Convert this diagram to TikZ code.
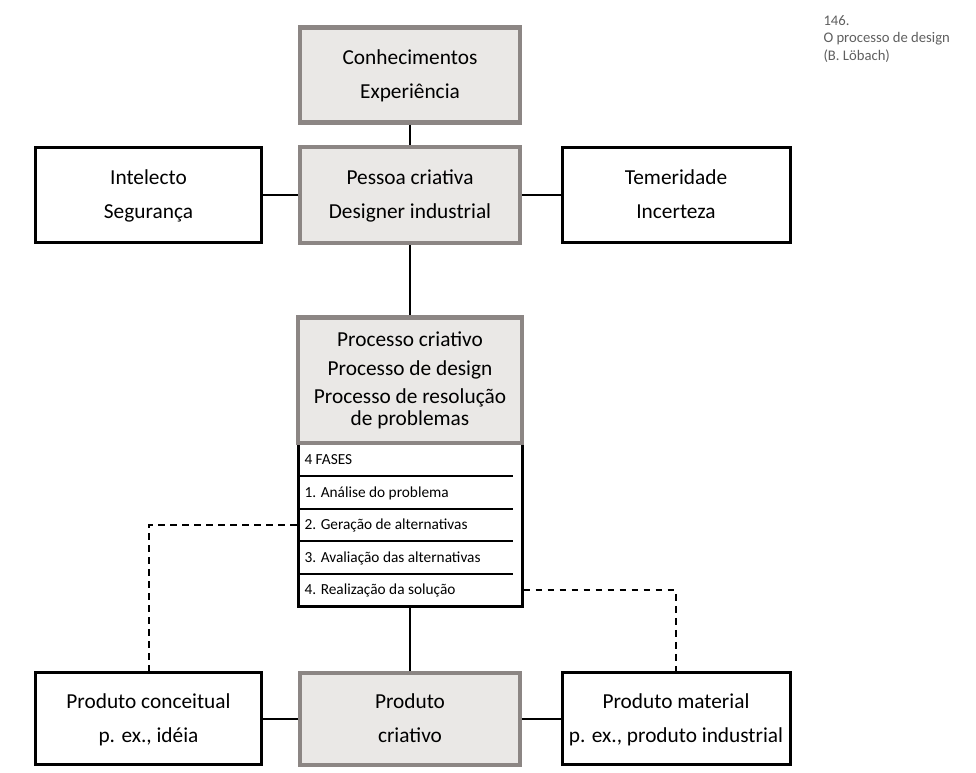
\documentclass[tikz,border=0pt]{standalone}
\usepackage{fontspec}
\setmainfont{Carlito}
\definecolor{boxgray}{RGB}{234,232,230}
\definecolor{rimgray}{RGB}{140,134,132}
\definecolor{capgray}{RGB}{95,95,95}
\tikzset{every picture/.style={line width=0.75pt}}
\tikzset{
  twolines/.style={execute at begin node={\rule{0pt}{42.5pt}}, execute at end node=\strut},
  whitebox/.style={draw=black, line width=2.25pt, fill=white, align=center, inner sep=0pt, font=\fontsize{16}{25}\selectfont, twolines},
  graybox/.style={draw=rimgray, line width=3.5pt, fill=boxgray, align=center, inner sep=0pt, font=\fontsize{16}{25}\selectfont, twolines},
  fase/.style={anchor=west, inner sep=0pt, font=\fontsize{11.5}{12}\selectfont},
  link/.style={line width=1.5pt},
  dashlink/.style={line width=1.5pt, dash pattern=on 5pt off 4pt},
  caption/.style={anchor=north west, align=left, inner sep=0pt, text=capgray, font=\fontsize{11}{13}\selectfont},
}

\begin{document}
\begin{tikzpicture}[x=0.75pt,y=0.75pt,yscale=-1,xscale=1]
	\useasboundingbox (0,0) rectangle (976,773);
	
	%Shape: Rectangle [top]
	\node[graybox, minimum width=165pt, minimum height=71pt] (know) at (410,75) {Conhecimentos\\Experiência};
	%Shape: Rectangle [middle row]
	\node[whitebox, minimum width=170pt, minimum height=71pt] (intel) at (148.5,195) {Intelecto\\Segurança};
	\node[graybox, minimum width=165pt, minimum height=72pt] (pessoa) at (410,195) {Pessoa criativa\\Designer industrial};
	\node[whitebox, minimum width=171pt, minimum height=71pt] (temer) at (676,195) {Temeridade\\Incerteza};
	
	%Shape: Rectangle [phases]
	\node[whitebox, minimum width=168pt, minimum height=123pt] (fases) at (410,525) {};
	\node[fase] (f0) at (304,460) {4 FASES};
	\node[fase] (f1) at (304,493) {1. Análise do problema};
	\node[fase] (f2) at (304,525.5) {2. Geração de alternativas};
	\node[fase] (f3) at (304,558) {3. Avaliação das alternativas};
	\node[fase] (f4) at (304,590.5) {4. Realização da solução};
	%Straight Lines [row rules]
	\draw [line width=1.2pt]    (298,476) -- (513,476) ;
	\draw [line width=1.2pt]    (298,509) -- (513,509) ;
	\draw [line width=1.2pt]    (298,541) -- (513,541) ;
	\draw [line width=1.2pt]    (298,574) -- (513,574) ;
	
	%Shape: Rectangle [process]
	\node[graybox, minimum width=168pt, minimum height=94pt, font=\fontsize{16}{21.5}\selectfont, execute at begin node={\rule{0pt}{74.5pt}}] (proc) at (410,380.5) {Processo criativo\\Processo de design\\Processo de resolução\\[-5pt]de problemas};
	
	%Shape: Rectangle [bottom row]
	\node[whitebox, minimum width=170pt, minimum height=69pt] (conc) at (148.5,719) {Produto conceitual\\p. ex., idéia};
	\node[graybox, minimum width=165pt, minimum height=69pt] (criat) at (410,719) {Produto\\criativo};
	\node[whitebox, minimum width=171pt, minimum height=69pt] (mater) at (676,719) {Produto material\\p. ex., produto industrial};
	
	%Straight Lines
	\draw [link]    (know) -- (pessoa) ;
	\draw [link]    (intel) -- (pessoa) ;
	\draw [link]    (pessoa) -- (temer) ;
	\draw [link]    (pessoa) -- (proc) ;
	\draw [link]    (fases) -- (criat) ;
	\draw [link]    (conc) -- (criat) ;
	\draw [link]    (criat) -- (mater) ;
	%Dashed Lines
	\draw [dashlink]    (fases.west |- f2) -| (conc.north) ;
	\draw [dashlink]    (fases.east |- f4) -| (mater.north) ;
	
	%Text Node [caption]
	\node[caption] (cap) at (823,15) {146.\\O processo de design\\(B. Löbach)};
	
\end{tikzpicture}
\end{document}
